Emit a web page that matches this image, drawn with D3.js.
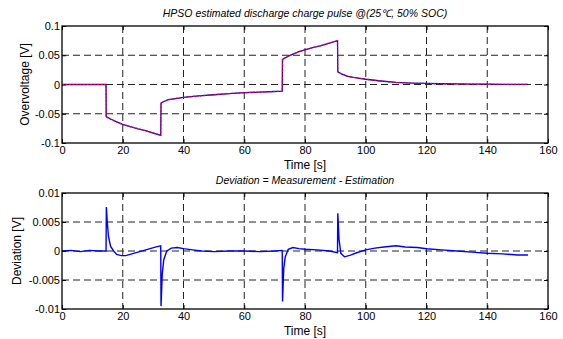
<!DOCTYPE html>
<html>
<head>
<meta charset="utf-8">
<script src="https://cdn.jsdelivr.net/npm/d3@7"></script>
<style>
  body { margin: 0; background: #fff; }
  svg { font-family: "Liberation Sans", Arial, sans-serif; }
  .grid line { stroke: #222; stroke-dasharray: 7,4; stroke-width: 1; }
  .tick text { font-size: 11px; fill: #000; }
</style>
</head>
<body>
<svg class="chart"></svg>
<script>
// time ticks shared by both plots
var xTicks = [0, 20, 40, 60, 80, 100, 120, 140, 160];
var topTicks = [-0.1, -0.05, 0, 0.05, 0.1];
var botTicks = [-0.01, -0.005, 0, 0.005, 0.01];

// overvoltage, measured [s, V]
var measured = [
  [0, 0], [14.5, 0], [14.55, -0.055], [16, -0.059], [18, -0.064], [20, -0.068],
  [22.5, -0.072], [25, -0.076], [27.5, -0.079], [30, -0.083], [32.5, -0.087],
  [32.6, -0.032], [33.5, -0.029], [35, -0.026], [37.5, -0.024], [40, -0.022],
  [45, -0.0195], [50, -0.0175], [55, -0.0155], [60, -0.014], [65, -0.013],
  [70, -0.012], [72.5, -0.0115], [72.6, 0.043], [74, 0.047], [76, 0.052],
  [78, 0.056], [80, 0.059], [82.5, 0.063], [85, 0.066], [87.5, 0.07],
  [90.7, 0.075], [90.8, 0.0215], [92, 0.018], [94, 0.014], [96, 0.012],
  [98, 0.0105], [100, 0.009], [105, 0.006], [110, 0.0035], [115, 0.0025],
  [120, 0.002], [125, 0.0013], [130, 0.001], [135, 0.0007], [140, 0.0005],
  [145, 0.0003], [150, 0.0002], [153.4, 0.0001]
];
// overvoltage, estimated [s, V]
var estimated = [
  [0, 0], [14.5, 0], [14.55, -0.0555], [16, -0.0595], [18, -0.064], [20, -0.0685],
  [22.5, -0.072], [25, -0.0755], [27.5, -0.079], [30, -0.0825], [32.5, -0.0868],
  [32.6, -0.0315], [33.5, -0.029], [35, -0.026], [37.5, -0.0238], [40, -0.022],
  [45, -0.0195], [50, -0.0175], [55, -0.0155], [60, -0.014], [65, -0.013],
  [70, -0.012], [72.5, -0.0115], [72.6, 0.0435], [74, 0.047], [76, 0.0518],
  [78, 0.0558], [80, 0.059], [82.5, 0.063], [85, 0.0662], [87.5, 0.0702],
  [90.7, 0.0752], [90.8, 0.0218], [92, 0.0182], [94, 0.0145], [96, 0.0122],
  [98, 0.0105], [100, 0.009], [105, 0.0058], [110, 0.0033], [115, 0.0023],
  [120, 0.0016], [125, 0.0011], [130, 0.0008], [135, 0.0006], [140, 0.0005],
  [145, 0.0004], [150, 0.0003], [153.4, 0.0002]
];
// deviation = measurement - estimation [s, V]
var deviation = [
  [0, 0], [3, 0.0001], [6, -0.0001], [9, 0.0001], [12, 0], [14.5, 0],
  [14.6, 0.0076], [14.9, 0.005], [15.3, 0.0025], [16, 0.0008], [17, 0],
  [18, -0.0006], [19.5, -0.0008], [21, -0.0008], [23, -0.0005], [25, -0.0002],
  [27, 0.0001], [29, 0.0004], [31, 0.0007], [32.5, 0.0009], [32.6, -0.0095],
  [33, -0.004], [33.5, -0.0015], [34.5, 0], [36, 0.0005], [38, 0.0006],
  [40, 0.0004], [43, 0.0002], [46, 0], [50, -0.0001], [55, 0], [60, 0],
  [65, -0.0001], [70, 0], [72.5, 0.0001], [72.6, -0.0087], [73, -0.003],
  [73.5, -0.001], [74.5, 0.0003], [76, 0.0006], [78, 0.0004], [80, 0.0003],
  [84, 0.0002], [88, 0], [90.7, -0.0003], [90.8, 0.0065], [91.2, 0.002],
  [91.8, -0.0004], [93, -0.001], [95, -0.0007], [97, -0.0003], [100, 0.0002],
  [103, 0.0005], [106, 0.0007], [110, 0.0009], [113, 0.0007], [117, 0.0006],
  [120, 0.0004], [125, 0.0002], [130, 0], [135, -0.0002], [140, -0.0004],
  [145, -0.0005], [150, -0.0007], [153.4, -0.0007]
];

function show() {
    'use strict';
    var width = 563, height = 339;
    var svg = d3.select(".chart").attr("width", width).attr("height", height);

    var x = d3.scaleLinear().domain([0, 160]).range([62, 548]);

    function panel(top, bottom, yDomain, yTicks, yFmt, title, ylabel, series) {
        var y = d3.scaleLinear().domain(yDomain).range([bottom, top]);
        var g = svg.append("g");

        // dashed grid
        var grid = g.append("g").attr("class", "grid");
        grid.selectAll(".gx").data(xTicks.slice(1, -1)).enter().append("line")
            .attr("x1", x).attr("x2", x).attr("y1", top).attr("y2", bottom);
        grid.selectAll(".gy").data(yTicks.slice(1, -1)).enter().append("line")
            .attr("x1", x.range()[0]).attr("x2", x.range()[1])
            .attr("y1", y).attr("y2", y);

        // axes, ticks inward on all four sides
        g.append("g").attr("transform", "translate(0," + bottom + ")")
            .call(d3.axisBottom(x).tickValues(xTicks).tickSizeInner(-4).tickSizeOuter(0).tickPadding(3).tickFormat(d3.format("d")))
            .call(function (a) { a.select(".domain").remove(); });
        g.append("g").attr("transform", "translate(0," + top + ")")
            .call(d3.axisTop(x).tickValues(xTicks).tickSizeInner(-4).tickSizeOuter(0).tickFormat(""))
            .call(function (a) { a.select(".domain").remove(); });
        g.append("g").attr("transform", "translate(" + x.range()[0] + ",0)")
            .call(d3.axisLeft(y).tickValues(yTicks).tickSizeInner(-4).tickSizeOuter(0).tickPadding(2).tickFormat(yFmt))
            .call(function (a) { a.select(".domain").remove(); });
        g.append("g").attr("transform", "translate(" + x.range()[1] + ",0)")
            .call(d3.axisRight(y).tickValues(yTicks).tickSizeInner(-4).tickSizeOuter(0).tickFormat(""))
            .call(function (a) { a.select(".domain").remove(); });
        g.selectAll(".tick line").attr("stroke", "#000");

        // data
        var line = d3.line().x(function (d) { return x(d[0]); }).y(function (d) { return y(d[1]); });
        series.forEach(function (s) {
            g.append("path").datum(s.data)
                .attr("fill", "none")
                .attr("stroke", s.color)
                .attr("stroke-width", s.width)
                .attr("stroke-dasharray", s.dash || null)
                .attr("d", line);
        });

        // box
        g.append("rect")
            .attr("x", x.range()[0]).attr("y", top)
            .attr("width", x.range()[1] - x.range()[0]).attr("height", bottom - top)
            .attr("fill", "none").attr("stroke", "#000").attr("stroke-width", 1.3);

        // labels
        g.append("text").attr("x", (x.range()[0] + x.range()[1]) / 2).attr("y", top - 9)
            .attr("text-anchor", "middle").attr("font-size", 10.5).attr("font-style", "italic")
            .text(title);
        g.append("text").attr("x", (x.range()[0] + x.range()[1]) / 2).attr("y", bottom + 26)
            .attr("text-anchor", "middle").attr("font-size", 12).text("Time [s]");
        g.append("text")
            .attr("transform", "translate(" + ylabel.x + "," + (top + bottom) / 2 + ") rotate(-90)")
            .attr("text-anchor", "middle").attr("font-size", 12).text(ylabel.text);
    }

    var fmt = function (d) { return d === 0 ? "0" : String(+d.toFixed(3)); };

    panel(26, 143, [-0.1, 0.1], topTicks, fmt,
        "HPSO estimated discharge charge pulse @(25\u2103, 50% SOC)",
        {x: 29, text: "Overvoltage [V]"},
        [{data: measured, color: "#0000ff", width: 1.3},
         {data: estimated, color: "#ff0000", width: 1.2, dash: "2,1.5"}]);

    panel(193, 309, [-0.01, 0.01], botTicks, fmt,
        "Deviation = Measurement - Estimation",
        {x: 21, text: "Deviation [V]"},
        [{data: deviation, color: "#0000ff", width: 1.4}]);
}
show();
</script>
</body>
</html>
